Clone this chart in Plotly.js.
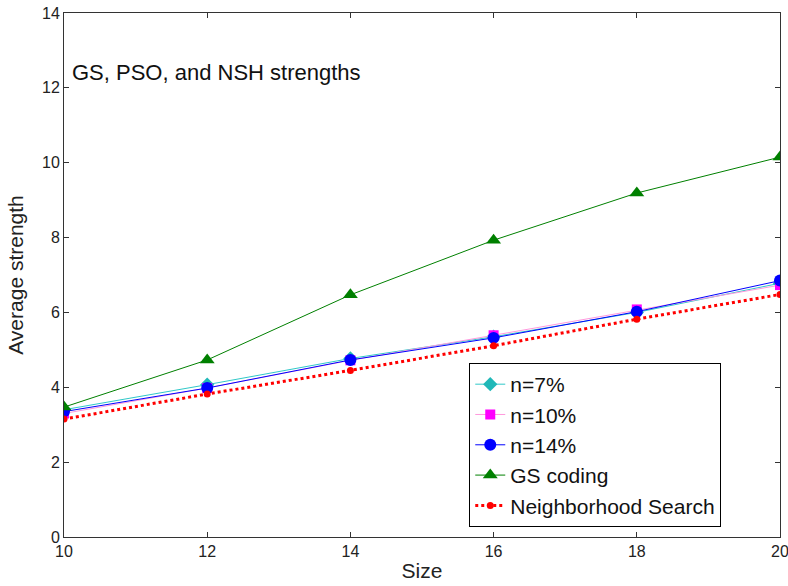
<!DOCTYPE html>
<html><head><meta charset="utf-8">
<script src="https://cdn.plot.ly/plotly-3.0.1.min.js"></script>
<style>html,body{margin:0;padding:0;background:#fff;}#chart{width:788px;height:586px;}</style>
</head><body><div id="chart"></div>
<script>
const sizes = [10, 12, 14, 16, 18, 20];
const n7 = [3.40, 4.07, 4.77, 5.35, 6.00, 6.78];
const n10 = [3.30, 3.98, 4.72, 5.39, 6.08, 6.73];
const n14 = [3.35, 3.98, 4.73, 5.32, 6.02, 6.85];
const gsCoding = [3.47, 4.73, 6.47, 7.93, 9.19, 10.15];
const nbSearch = [3.15, 3.82, 4.45, 5.11, 5.82, 6.48];
const yTicks = [0, 2, 4, 6, 8, 10, 12, 14];
const xTicks = [10, 12, 14, 16, 18, 20];

const traces = [
  {x: sizes, y: n7, name: 'n=7%', mode: 'lines+markers',
   line: {color: '#30c8c8', width: 1}, marker: {symbol: 'diamond', size: 11, color: '#20b8b8'}},
  {x: sizes, y: n10, name: 'n=10%', mode: 'lines+markers',
   line: {color: '#ff99dd', width: 1}, marker: {symbol: 'square', size: 10, color: '#ff00ff'}},
  {x: sizes, y: n14, name: 'n=14%', mode: 'lines+markers',
   line: {color: '#0000ff', width: 1}, marker: {symbol: 'circle', size: 12, color: '#0000ff'}},
  {x: sizes, y: gsCoding, name: 'GS coding', mode: 'lines+markers',
   line: {color: '#008000', width: 1}, marker: {symbol: 'triangle-up', size: 13, color: '#008000'}},
  {x: sizes, y: nbSearch, name: 'Neighborhood Search', mode: 'lines+markers',
   line: {color: '#ff0000', width: 3, dash: 'dot'}, marker: {symbol: 'circle', size: 7, color: '#ff0000'}}
];

const axisCommon = {
  showline: true, linecolor: '#333', linewidth: 1, mirror: 'allticks',
  ticks: 'inside', ticklen: 5, tickcolor: '#333', showgrid: false, zeroline: false,
  ticklabeloverflow: 'allow',
  tickfont: {family: 'Liberation Sans, Arial, sans-serif', size: 16, color: '#222'}
};

const layout = {
  width: 788, height: 586,
  margin: {l: 64, r: 8, t: 13, b: 49},
  paper_bgcolor: '#fff', plot_bgcolor: '#fff',
  showlegend: true,
  font: {family: 'Liberation Sans, Arial, sans-serif', color: '#000'},
  xaxis: Object.assign({}, axisCommon, {
    range: [10, 20], tickvals: xTicks, ticktext: xTicks.map(String),
    title: {text: 'Size', font: {size: 21, color: '#222'}, standoff: 4}
  }),
  yaxis: Object.assign({}, axisCommon, {
    range: [0, 14], tickvals: yTicks, ticktext: yTicks.map(String),
    title: {text: 'Average strength', font: {size: 21, color: '#222'}, standoff: 12}
  }),
  legend: {
    x: 0.566, y: 0.332, xanchor: 'left', yanchor: 'top',
    bgcolor: '#fff', bordercolor: '#000', borderwidth: 1,
    font: {size: 21, color: '#111'}, tracegroupgap: 0, itemwidth: 30
  },
  annotations: [{
    xref: 'paper', yref: 'paper', x: 0.008, y: 0.887, xanchor: 'left', yanchor: 'middle',
    text: 'GS, PSO, and NSH strengths', showarrow: false,
    font: {size: 22, color: '#111'}
  }]
};

Plotly.newPlot('chart', traces, layout, {displayModeBar: false, staticPlot: true});
</script>
</body></html>
